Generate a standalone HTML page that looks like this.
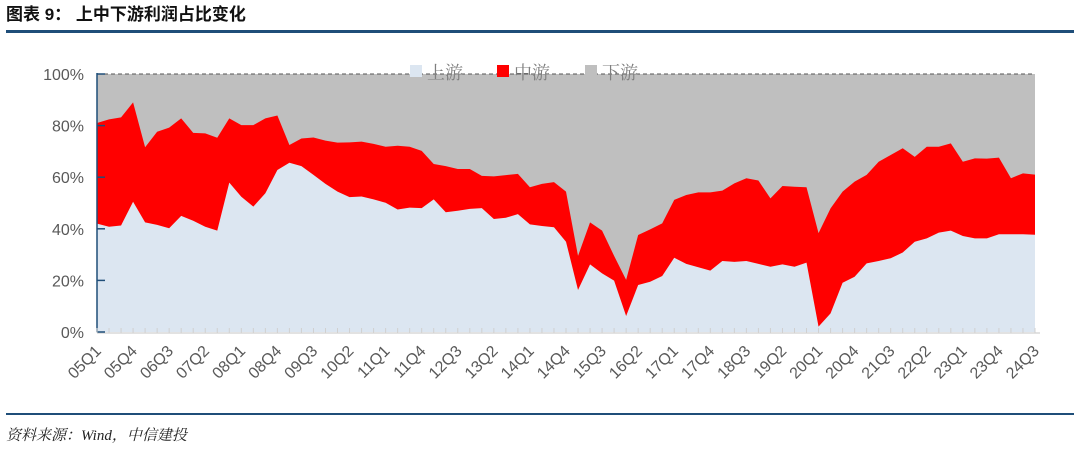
<!DOCTYPE html>
<html><head><meta charset="utf-8">
<style>
body{margin:0;width:1080px;height:446px;background:#fff;overflow:hidden;font-family:"Liberation Sans","Noto Sans CJK SC",sans-serif;}
</style></head><body>
<svg id="c" width="1080" height="446" xmlns="http://www.w3.org/2000/svg">
<text x="6" y="20" font-size="17" font-weight="bold" fill="#111" font-family="Liberation Sans, Noto Sans CJK SC, sans-serif">图表 9：   上中下游利润占比变化</text>
<rect x="6" y="30" width="1068" height="3" fill="#1f4e79"/>
<rect x="6" y="413" width="1068" height="2" fill="#1f4e79"/>
<text x="6" y="440" font-size="15" font-style="italic" fill="#222" font-family="Liberation Serif, Noto Serif CJK SC, serif">资料来源：Wind，中信建投</text>
<g id="plot"></g>
</svg>
<script>
const categories=[];for(let y=5;y<=24;y++)for(let q=1;q<=4;q++){if(y===24&&q>3)break;categories.push(String(y).padStart(2,'0')+'Q'+q);}
const upstream=[42,40.8,41.3,50.5,42.5,41.5,40.2,45,43.1,40.8,39.3,57.9,52.4,48.6,53.8,62.8,65.6,64.3,60.9,57.4,54.4,52.3,52.5,51.4,50.1,47.5,48.2,48,51.4,46.4,47,47.7,48,43.8,44.3,45.7,41.7,41.1,40.6,35,16.3,26.2,22.7,19.9,6.2,18.2,19.5,21.7,28.8,26.4,25.1,23.8,27.5,27.2,27.5,26.4,25.3,26.2,25.3,26.9,2.1,7.2,19.1,21.4,26.6,27.5,28.6,30.8,35,36.3,38.5,39.3,37.2,36.3,36.3,37.9,37.9,37.9,37.7];
const upMidTotal=[81,82.4,83.2,89,71.6,77.6,79.2,82.8,77.2,77,75.3,82.8,80.2,80.2,82.8,83.9,72.5,75,75.4,74.2,73.4,73.5,73.8,72.9,71.8,72.2,71.8,70.2,65.1,64.3,63.2,63.2,60.5,60.3,60.8,61.3,56.1,57.4,58.1,54.4,29.5,42.5,39.3,29.5,20.2,37.6,39.8,42.1,51.2,53.1,54.1,54.1,54.8,57.6,59.6,58.7,51.8,56.6,56.3,56.1,38.3,47.9,54.4,58.3,60.9,66,68.6,71.2,67.9,71.8,71.8,73.1,66,67.3,67.2,67.6,59.6,61.5,61];
const yTicks=[0,20,40,60,80,100];
const legendLabels=['上游','中游','下游'];
const NS='http://www.w3.org/2000/svg';
const X0=97,X1=1035,Y0=332,Y1=74;
const xs=i=>X0+(X1-X0)*i/(categories.length-1);
const ys=v=>Y0-(Y0-Y1)*v/100;
const g=document.getElementById('plot');
function mk(t,a){const e=document.createElementNS(NS,t);for(const k in a)e.setAttribute(k,a[k]);g.appendChild(e);return e;}
let e=mk('rect',{x:X0,y:Y1,width:X1-X0,height:Y0-Y1,fill:'#bfbfbf'});


const topPts=upMidTotal.map((v,i)=>xs(i)+','+ys(v)).join(' ');
e=mk('polygon',{points:X0+','+Y0+' '+topPts+' '+X1+','+Y0,fill:'#ff0000'});


const upPts=upstream.map((v,i)=>xs(i)+','+ys(v)).join(' ');
e=mk('polygon',{points:X0+','+Y0+' '+upPts+' '+X1+','+Y0,fill:'#dce6f1'});


e=mk('line',{x1:X0,y1:Y1,x2:X1,y2:Y1,stroke:'#555','stroke-dasharray':'4,3','stroke-width':1});


e=mk('line',{x1:X0,y1:Y0+1,x2:X1+5,y2:Y0+1,stroke:'#d9d9d9','stroke-width':1.5});


e=mk('line',{x1:X0,y1:Y1-1,x2:X0,y2:Y0,stroke:'#1f4e79','stroke-width':1.5});


yTicks.forEach(v=>{
 let t=mk('line',{x1:X0,y1:ys(v),x2:X0+8,y2:ys(v),stroke:'#1f4e79','stroke-width':1.5});
 
 
 let l=mk('text',{x:X0-13,y:ys(v)+6,'text-anchor':'end','font-size':16,fill:'#595959'});
 l.textContent=v+'%';
 
 
});
categories.forEach((c,i)=>{
 let t=mk('line',{x1:xs(i),y1:Y0-4,x2:xs(i),y2:Y0+1,stroke:'#d0d0d0','stroke-width':1});
 
 
 if(i%3===0){
  let x=xs(i)+5,y=Y0+20;
  let l=mk('text',{x:x,y:y,'text-anchor':'end','font-size':16,fill:'#595959',transform:'rotate(-45 '+x+' '+y+')'});
  l.textContent=c;
  
  
 }
});
const lc=['#dce6f1','#ff0000','#bfbfbf'],lx=[410,497,585];
legendLabels.forEach((s,i)=>{
 let r=mk('rect',{x:lx[i],y:65,width:12,height:12,fill:lc[i]});
 
 
 let t=mk('text',{x:lx[i]+17,y:79,'font-size':18,fill:'#7f7f7f','font-family':'Liberation Serif, Noto Serif CJK SC, serif'});
 t.textContent=s;
 
 
});
</script>
</body></html>
